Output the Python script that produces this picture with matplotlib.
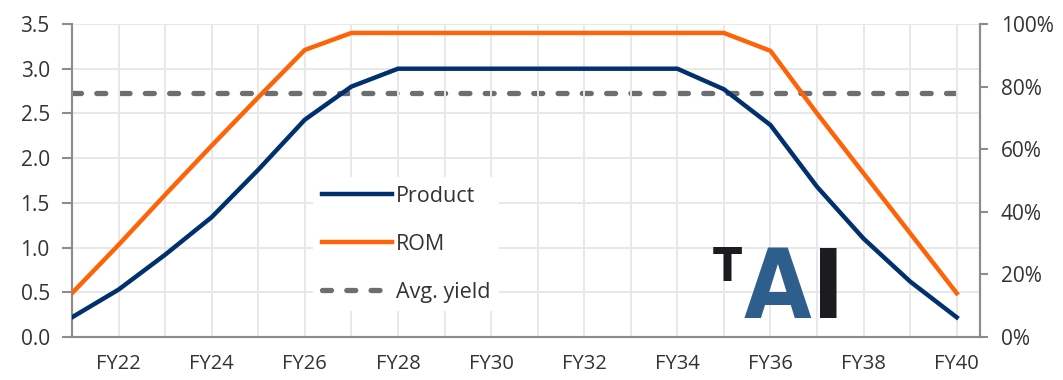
import matplotlib
matplotlib.use("Agg")
import matplotlib.pyplot as plt
from matplotlib import font_manager
import numpy as np

plt.rcParams['font.family'] = ['Open Sans', 'DejaVu Sans']

# data
years = [f"FY{y}" for y in range(21, 41)]
product = [0.22, 0.53, 0.92, 1.34, 1.87, 2.43, 2.80, 3.0, 3.0, 3.0,
           3.0, 3.0, 3.0, 3.0, 2.77, 2.37, 1.68, 1.10, 0.62, 0.22]
rom = [0.49, 1.03, 1.59, 2.14, 2.68, 3.21, 3.40, 3.40, 3.40, 3.40,
       3.40, 3.40, 3.40, 3.40, 3.40, 3.20, 2.50, 1.83, 1.16, 0.49]
avg_yield = 0.78

navy = "#00306E"
orange = "#FF6308"
grey = "#6D6E71"
axis_grey = "#8C8C8C"
text_col = "#333333"

W, H = 1063, 380
fig = plt.figure(figsize=(W / 100, H / 100), dpi=100)
ax = fig.add_axes([72 / W, 1 - 337 / H, (980 - 72) / W, (337 - 24) / H])
ax2 = ax.twinx()

x = np.arange(len(years))
l1, = ax.plot(x, product, color=navy, lw=3.2, label="Product", zorder=3)
l2, = ax.plot(x, rom, color=orange, lw=3.2, label="ROM", zorder=3)
l3, = ax2.plot(x, [avg_yield] * len(x), color=grey, lw=3.8, ls=(0, (1.7, 2.9)),
               dash_capstyle='round', label="Avg. yield", zorder=3)

ax.set_xlim(0, len(x) - 0.5)
ax.set_ylim(0, 3.5)
ax2.set_ylim(0, 1.0)

ax.set_yticks(np.arange(0, 3.51, 0.5))
ax.set_yticklabels([f"{v:.1f}" for v in np.arange(0, 3.51, 0.5)])
ax2.set_yticks(np.arange(0, 1.01, 0.2))
ax2.set_yticklabels([f"{int(round(v * 100))}%" for v in np.arange(0, 1.01, 0.2)])

ax.set_xticks(x, minor=True)
ax.set_xticks(x[1::2])
ax.set_xticklabels(years[1::2])

ax.grid(True, which='both', axis='x', color="#E8E8E8", lw=1.4)
ax.grid(True, which='major', axis='y', color="#E8E8E8", lw=1.4)
ax.set_axisbelow(True)

for a in (ax, ax2):
    a.spines['top'].set_visible(False)
    for s in ('bottom', 'left', 'right'):
        a.spines[s].set_color(axis_grey)
        a.spines[s].set_linewidth(1.5)

ax.tick_params(axis='y', colors=axis_grey, labelcolor=text_col, labelsize=15, length=7, width=1.5, pad=9)
ax.tick_params(axis='x', which='both', length=0, labelcolor=text_col, labelsize=14.5, pad=12)
ax2.tick_params(axis='y', colors=axis_grey, labelcolor=text_col, labelsize=15, length=6, width=1.5, pad=9)

leg = ax.legend(handles=[l1, l2, l3], loc='center left', bbox_to_anchor=(0.254, 0.296),
                frameon=True, fontsize=15.5, handlelength=3.25, handletextpad=0.2,
                labelspacing=1.25, borderpad=0.4, labelcolor=text_col)
leg.get_frame().set_edgecolor('none')
leg.get_frame().set_facecolor('white')
leg.get_frame().set_alpha(1.0)
leg.set_zorder(5)
ax.set_zorder(ax2.get_zorder() + 1)
ax.patch.set_visible(False)

# logo: prefer a bold condensed face if one is installed
cands = [f for f in font_manager.fontManager.ttflist
         if ('Narrow' in f.name or 'Condensed' in f.name or f.stretch == 'condensed')
         and f.style == 'normal']
bold = [f for f in cands if isinstance(f.weight, int) and f.weight >= 600
        or f.weight in ('bold', 'semibold', 'demibold')]
pick = (bold or cands)
if pick:
    logo_fp = font_manager.FontProperties(fname=pick[0].fname)
    a_size, t_size = 70, 34
else:
    logo_fp = font_manager.FontProperties(family='Liberation Sans', weight='bold')
    a_size, t_size = 64, 34

renderer = fig.canvas.get_renderer()
ta = fig.text(777 / W, 1 - 318 / H, "A", color="#2E5F8C",
              fontproperties=logo_fp, va='baseline', ha='center')
ta.set_fontsize(a_size)
bb = ta.get_window_extent(renderer)
ti = fig.text((bb.x1 + 1) / W, 1 - 318 / H, "I", color="#1B1B20",
              fontproperties=logo_fp, va='baseline', ha='left')
ti.set_fontsize(a_size)
tt = fig.text((bb.x0 - 1) / W, 1 - 281 / H, "T", color="#1B1B20",
              fontproperties=logo_fp, va='baseline', ha='right')
tt.set_fontsize(t_size)

fig.savefig("out.png", dpi=100)
